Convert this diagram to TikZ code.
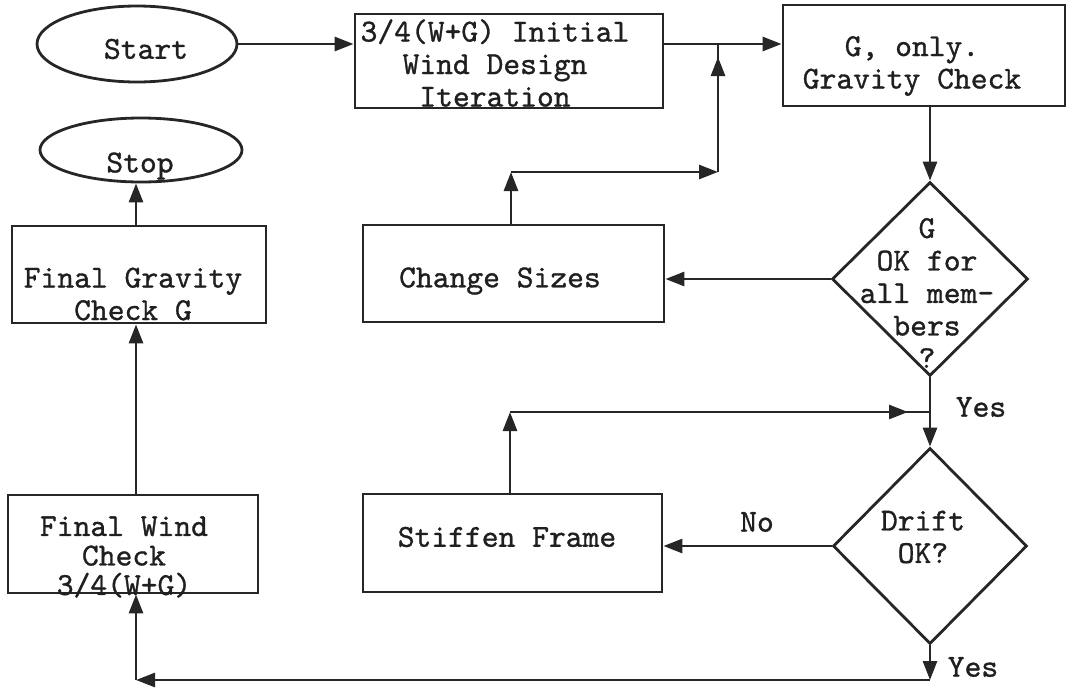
\documentclass[tikz,border=0pt]{standalone}
\usepackage{fontspec}
\setmonofont{lmmono10-regular.otf}[FakeBold=1]
\usetikzlibrary{arrows.meta,shapes.geometric,decorations.markings}

\begin{document}
\begin{tikzpicture}[x=1pt,y=-1pt,
  ink/.style={line width=2.8pt,draw=black!85},
  arr/.style={-{Triangle[length=19pt,width=14pt]}},
  box/.style={ink,rectangle,inner sep=0pt},
  oval/.style={ink,ellipse,inner sep=0pt},
  dec/.style={ink,diamond,inner sep=0pt},
  txt/.style={font=\fontsize{32}{32.5}\selectfont\ttfamily,align=center,inner sep=0pt,text=black!88},
  midtip/.style={postaction={decorate,decoration={markings,
      mark=at position #1 with {\arrow{Triangle[length=19pt,width=14pt]}}}}}]

\useasboundingbox (0,0) rectangle (1072,689);

% --- shapes ---
\node[oval,minimum width=200pt,minimum height=76pt] (start) at (137,44) {};
\node[oval,minimum width=202pt,minimum height=64pt] (stop) at (141,150) {};
\node[box,minimum width=308pt,minimum height=94pt] (init) at (509,61) {};
\node[box,minimum width=282pt,minimum height=101pt] (gbox) at (924,55.5) {};
\node[box,minimum width=301pt,minimum height=97pt] (cs) at (513.5,273.5) {};
\node[box,minimum width=299pt,minimum height=98pt] (sf) at (512.5,543) {};
\node[box,minimum width=254pt,minimum height=97pt] (fg) at (139,274.5) {};
\node[box,minimum width=250pt,minimum height=98pt] (fw) at (133,544) {};
\node[dec,minimum width=196pt,minimum height=194pt] (d1) at (930,279) {};
\node[dec,minimum width=194pt,minimum height=196pt] (d2) at (930,546) {};

% --- texts ---
\node[txt] (t-start) at (146,49) {Start};
\node[txt] (t-stop) at (140,166) {Stop};
\node[txt] (t-init) at (495,63) {3/4(W+G) Initial\\Wind Design\\Iteration};
\node[txt] (t-gbox) at (912,66) {G, only.\\Gravity Check};
\node[txt] (t-cs) at (500,281) {Change Sizes};
\node[txt] (t-d1) at (927,293) {G\\OK for\\all mem-\\bers\\?};
\node[txt] (t-d2) at (923,537) {Drift\\OK?};
\node[txt] (t-sf) at (507,537) {Stiffen Frame};
\node[txt] (t-fg) at (133,294) {Final Gravity\\Check G};
\node[txt,font=\fontsize{32}{29.5}\selectfont\ttfamily] (t-fw) at (124,557) {Final Wind\\Check\\3/4(W+G)};
\node[txt] (yes1) at (981,407) {Yes};
\node[txt] (yes2) at (973,667) {Yes};
\node[txt] (no) at (757,522) {No};

% --- junctions and corners ---
\coordinate (j1) at (718,44);
\coordinate (j2) at (718,172);
\coordinate (c1) at (511,172);
\coordinate (j3) at (930,412);
\coordinate (c2) at (510,412);
\coordinate (c3) at (930,680);
\coordinate (c4) at (136,680);

% --- connectors ---
\draw[ink,arr] (start.east) -- (start.east -| init.west);
\draw[ink,arr] (init.east |- j1) -- (gbox.west |- j1);
\draw[ink,arr] (c1 |- cs.north) -- (c1);
\draw[ink,arr] (c1) -- (j2);
\draw[ink,midtip=-13pt] (j2) -- (j1);
\draw[ink,arr] (d1.north |- gbox.south) -- (d1.north);
\draw[ink,arr] (d1.west) -- (d1.west -| cs.east);
\draw[ink,arr] (d1.south) -- (d2.north);
\draw[ink,arr] (c2 |- sf.north) -- (c2);
\draw[ink,midtip=-22pt] (c2) -- (j3);
\draw[ink,arr] (d2.west) -- (d2.west -| sf.east);
\draw[ink,arr] (d2.south) -- (c3);
\draw[ink,arr] (c3) -- (c4);
\draw[ink,arr] (c4) -- (c4 |- fw.south);
\draw[ink,arr] (c4 |- fw.north) -- (c4 |- fg.south);
\draw[ink,arr] (c4 |- fg.north) -- (c4 |- stop.south);

\end{tikzpicture}
\end{document}
